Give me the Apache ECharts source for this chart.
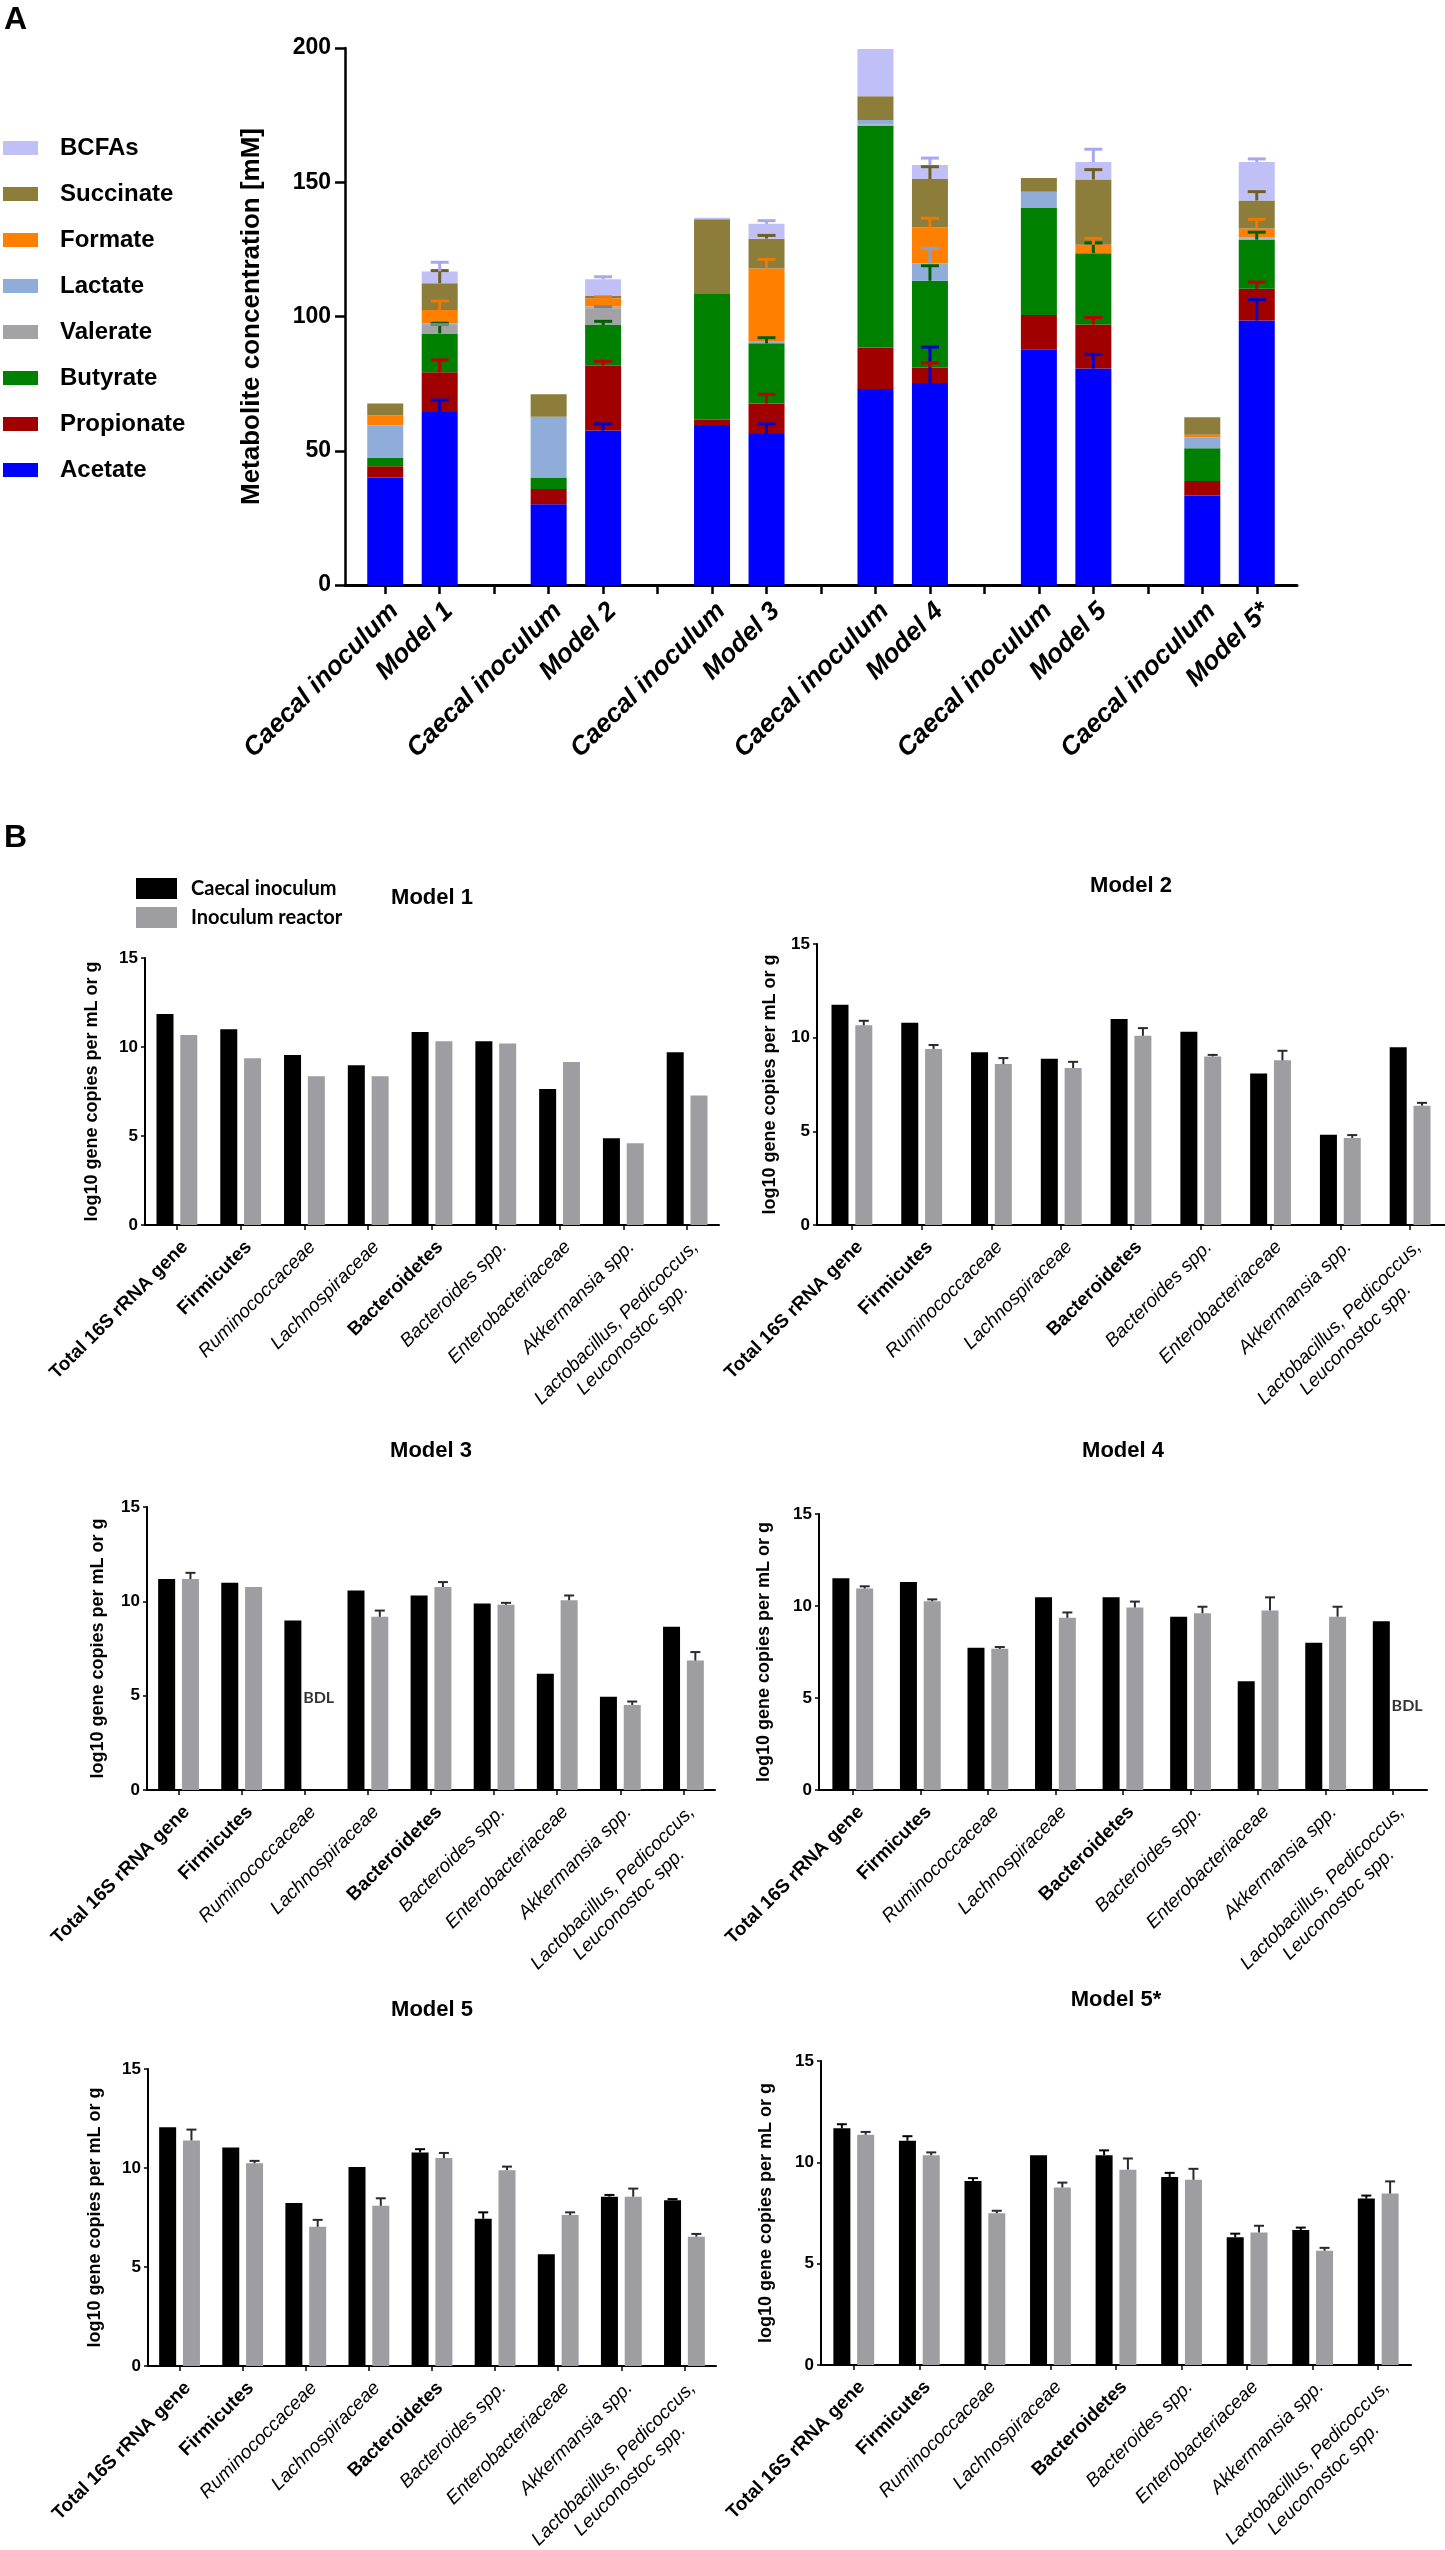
<!DOCTYPE html>
<html><head><meta charset="utf-8">
<script src="https://cdn.jsdelivr.net/npm/echarts@6/dist/echarts.min.js"></script>
<style>html,body{margin:0;padding:0;background:#fff}#c{width:1445px;height:2550px}</style>
</head><body><div id="c"></div>
<script>
// ---------- Panel A data ----------
const metabolites = ['Acetate','Propionate','Butyrate','Valerate','Lactate','Formate','Succinate','BCFAs'];
const legendOrderA = ['BCFAs','Succinate','Formate','Lactate','Valerate','Butyrate','Propionate','Acetate'];
// 17 slots: caecal, model, blank ... (last blank dropped)
const slotLabels = ['Caecal inoculum','Model 1','','Caecal inoculum','Model 2','','Caecal inoculum','Model 3','','Caecal inoculum','Model 4','','Caecal inoculum','Model 5','','Caecal inoculum','Model 5*'];
const acetate    = [40, 64.4, null, 30.1, 57.5, null, 59.6, 56.2, null, 73, 75.2, null, 87.8, 80.6, null, 33.3, 98.5];
const propionate = [4.2, 14.8, null, 5.7, 24.2, null, 1.9, 11.4, null, 15.5, 5.8, null, 12.8, 16.4, null, 5.4, 11.8];
const butyrate   = [3.2, 14.5, null, 4.2, 15.1, null, 46.9, 22.4, null, 82.5, 32.3, null, 39.8, 26.6, null, 12.2, 18.3];
const valerate   = [0.3, 2.8, null, 0, 6.3, null, 0, 0, null, 0.5, 0, null, 0, 0, null, 0, 0.4];
const lactate    = [11.7, 1.0, null, 22.7, 0.6, null, 0, 0.6, null, 1.7, 6.5, null, 6.1, 0, null, 4.0, 0.5];
const formate    = [3.8, 4.9, null, 0, 3.1, null, 0, 27.3, null, 0, 13.4, null, 0, 3.1, null, 1.1, 3.3];
const succinate  = [4.4, 10.0, null, 8.3, 0.8, null, 27.8, 11.1, null, 8.8, 18.0, null, 5.1, 24.3, null, 6.5, 10.4];
const bcfas      = [0, 4.4, null, 0, 6.3, null, 0.6, 5.5, null, 17.6, 5.2, null, 0, 6.5, null, 0, 14.3];
const acetateErr    = [0, 4.5, 0, 0, 2.5, 0, 0, 3.8, 0, 0, 13.4, 0, 0, 5.3, 0, 0, 7.8];
const propionateErr = [0, 4.6, 0, 0, 1.6, 0, 0, 3.4, 0, 0, 1.7, 0, 0, 2.6, 0, 0, 2.5];
const butyrateErr   = [0, 3.8, 0, 0, 1.4, 0, 0, 2.1, 0, 0, 5.6, 0, 0, 3.8, 0, 0, 2.8];
const valerateErr   = [0, 0.5, 0, 0, 0.5, 0, 0, 0, 0, 0, 0, 0, 0, 0, 0, 0, 0];
const lactateErr    = [0, 0, 0, 0, 0, 0, 0, 0, 0, 0, 5.6, 0, 0, 0, 0, 0, 0];
const formateErr    = [0, 3.4, 0, 0, 0.5, 0, 0, 3.4, 0, 0, 3.4, 0, 0, 2.4, 0, 0, 3.4];
const succinateErr  = [0, 4.7, 0, 0, 0, 0, 0, 1.2, 0, 0, 4.6, 0, 0, 3.7, 0, 0, 3.3];
const bcfasErr      = [0, 3.4, 0, 0, 0.9, 0, 0, 1.2, 0, 0, 2.6, 0, 0, 4.8, 0, 0, 1.2];
const yTicksA = [0, 50, 100, 150, 200];

// ---------- Panel B data ----------
const taxa = ['Total 16S rRNA gene','Firmicutes','Ruminococcaceae','Lachnospiraceae','Bacteroidetes','Bacteroides spp.','Enterobacteriaceae','Akkermansia spp.','Lactobacillus, Pedicoccus,\nLeuconostoc spp.'];
const boldTaxa = [0, 1, 4];
const modelTitles = ['Model 1','Model 2','Model 3','Model 4','Model 5','Model 5*'];
const caecalM1 = [11.86, 11.0, 9.55, 8.98, 10.84, 10.32, 7.64, 4.87, 9.7];
const reactorM1 = [10.67, 9.37, 8.35, 8.35, 10.32, 10.19, 9.16, 4.59, 7.27];
const caecalErrM1 = [0,0,0,0,0,0,0,0,0];
const reactorErrM1 = [0,0,0,0,0,0,0,0,0];
const caecalM2 = [11.76, 10.8, 9.22, 8.87, 11.0, 10.31, 8.09, 4.82, 9.49];
const reactorM2 = [10.66, 9.4, 8.59, 8.38, 10.1, 9.0, 8.79, 4.65, 6.37];
const caecalErrM2 = [0,0,0,0,0,0,0,0,0];
const reactorErrM2 = [0.24, 0.21, 0.32, 0.33, 0.41, 0.08, 0.51, 0.15, 0.15];
const caecalM3 = [11.18, 10.98, 8.98, 10.57, 10.31, 9.88, 6.16, 4.94, 8.65];
const reactorM3 = [11.18, 10.76, null, 9.18, 10.76, 9.82, 10.06, 4.51, 6.86];
const caecalErrM3 = [0,0,0,0,0,0,0,0,0];
const reactorErrM3 = [0.33, 0, 0, 0.33, 0.26, 0.1, 0.25, 0.18, 0.45];
const caecalM4 = [11.51, 11.3, 7.73, 10.47, 10.47, 9.42, 5.91, 8.0, 9.17];
const reactorM4 = [10.95, 10.26, 7.67, 9.36, 9.92, 9.61, 9.76, 9.42, null];
const caecalErrM4 = [0,0,0,0,0,0,0,0,0];
const reactorErrM4 = [0.12, 0.1, 0.1, 0.29, 0.32, 0.35, 0.71, 0.54, 0];
const caecalM5 = [12.06, 11.03, 8.23, 10.05, 10.78, 7.44, 5.64, 8.55, 8.37];
const reactorM5 = [11.39, 10.24, 7.03, 8.09, 10.5, 9.89, 7.62, 8.55, 6.53];
const caecalErrM5 = [0, 0, 0, 0, 0.17, 0.32, 0, 0.09, 0.06];
const reactorErrM5 = [0.55, 0.12, 0.35, 0.38, 0.26, 0.18, 0.14, 0.41, 0.14];
const caecalM5s = [11.68, 11.07, 9.08, 10.35, 10.35, 9.28, 6.3, 6.66, 8.21];
const reactorM5s = [11.36, 10.35, 7.49, 8.76, 9.64, 9.14, 6.54, 5.64, 8.46];
const caecalErrM5s = [0.2, 0.22, 0.14, 0, 0.24, 0.2, 0.18, 0.12, 0.15];
const reactorErrM5s = [0.14, 0.14, 0.12, 0.24, 0.55, 0.54, 0.33, 0.14, 0.6];
const bdlPoints = [[2, 2, 4.9], [3, 8, 4.6]]; // [panel index, taxon index, label height]
const yTicksB = [0, 5, 10, 15];

// ---------- styles ----------
const FONT = '"Liberation Sans", Arial, sans-serif';
const colorsA = {Acetate:'#0000ff', Propionate:'#a00000', Butyrate:'#008000', Valerate:'#a3a3a6', Lactate:'#8fadd8', Formate:'#ff8000', Succinate:'#8c7d3b', BCFAs:'#c0c0f6'};
const errColorsA = {Acetate:'#0000c8', Propionate:'#c00000', Butyrate:'#006000', Valerate:'#808084', Lactate:'#7fa4d4', Formate:'#f07800', Succinate:'#6e5f22', BCFAs:'#a8a8ee'};
const valuesA = {Acetate:acetate, Propionate:propionate, Butyrate:butyrate, Valerate:valerate, Lactate:lactate, Formate:formate, Succinate:succinate, BCFAs:bcfas};
const errsA = {Acetate:acetateErr, Propionate:propionateErr, Butyrate:butyrateErr, Valerate:valerateErr, Lactate:lactateErr, Formate:formateErr, Succinate:succinateErr, BCFAs:bcfasErr};

const BW = 17, GAP = 0.4, OFF = (BW + BW * GAP) / 2;
const FSB = 19;
const gridsB = [
  {left:145, top:958, width:574, height:267, title:[432, 898], gap:44},
  {left:817, top:944, width:628, height:281, title:[1131, 886], gap:38},
  {left:147, top:1507, width:568, height:283, title:[431, 1451], gap:40},
  {left:819, top:1514, width:608, height:276, title:[1123, 1451], gap:46},
  {left:148, top:2069, width:568, height:297, title:[432, 2010], gap:44},
  {left:821, top:2061, width:590, height:304, title:[1116, 2000], gap:46}
];
const caecalB = [caecalM1, caecalM2, caecalM3, caecalM4, caecalM5, caecalM5s];
const reactorB = [reactorM1, reactorM2, reactorM3, reactorM4, reactorM5, reactorM5s];
const caecalErrB = [caecalErrM1, caecalErrM2, caecalErrM3, caecalErrM4, caecalErrM5, caecalErrM5s];
const reactorErrB = [reactorErrM1, reactorErrM2, reactorErrM3, reactorErrM4, reactorErrM5, reactorErrM5s];

const cv = document.createElement('canvas').getContext('2d');
cv.font = 'italic ' + FSB + 'px ' + FONT;
const line1W = Math.ceil(cv.measureText(taxa[8].split('\n')[0]).width);

// grid 0: axis frame for panel A; grid 1: bars of panel A
const grid = [
  {left:345, top:48, width:952, height:537, outerBoundsMode:'none', containLabel:false},
  {left:358, top:48, width:926, height:537, outerBoundsMode:'none', containLabel:false}
];
const xAxis = [
  {gridIndex:0, type:'value', min:0, max:1,
   axisLine:{show:true, lineStyle:{color:'#000', width:3}}, axisTick:{show:false}, axisLabel:{show:false}, splitLine:{show:false}},
  {gridIndex:1, type:'category', data:slotLabels, boundaryGap:true,
   axisLine:{show:false}, splitLine:{show:false},
   axisTick:{show:true, alignWithLabel:true, interval:0, length:9, lineStyle:{color:'#000', width:2.5}},
   axisLabel:{show:true, interval:0, rotate:45, margin:13, verticalAlign:'top',
     color:'#000', fontFamily:FONT, fontWeight:'bold', fontStyle:'italic', fontSize:26}}
];
const yAxis = [
  {gridIndex:0, type:'value', min:yTicksA[0], max:yTicksA[yTicksA.length-1], interval:50,
   name:'Metabolite concentration [mM]', nameLocation:'middle', nameGap:80,
   nameTextStyle:{color:'#000', fontFamily:FONT, fontWeight:'bold', fontSize:26},
   axisLine:{show:true, lineStyle:{color:'#000', width:2.5}},
   axisTick:{show:true, length:10, lineStyle:{color:'#000', width:2.5}},
   axisLabel:{color:'#000', fontFamily:FONT, fontWeight:'bold', fontSize:23, margin:14},
   splitLine:{show:false}},
  {gridIndex:1, type:'value', min:yTicksA[0], max:yTicksA[yTicksA.length-1], show:false}
];
const series = [];
metabolites.forEach(m => {
  series.push({
    name:m, type:'bar', stack:'A', xAxisIndex:1, yAxisIndex:1, barWidth:36,
    itemStyle:{color:colorsA[m]}, data:valuesA[m]
  });
});
const cum = slotLabels.map(() => 0);
metabolites.forEach(m => {
  const errData = [];
  slotLabels.forEach((lab, i) => {
    const v = valuesA[m][i];
    if (v == null) return;
    cum[i] += v;
    if (errsA[m][i] > 0) errData.push([i, cum[i], cum[i] + errsA[m][i]]);
  });
  const col = errColorsA[m];
  series.push({
    name:'err ' + m, type:'custom', xAxisIndex:1, yAxisIndex:1, z:5, data:errData,
    renderItem:(params, api) => {
      const p0 = api.coord([api.value(0), api.value(1)]);
      const p1 = api.coord([api.value(0), api.value(2)]);
      return {type:'group', children:[
        {type:'line', shape:{x1:p0[0], y1:p0[1], x2:p1[0], y2:p1[1]}, style:{stroke:col, lineWidth:3}},
        {type:'line', shape:{x1:p1[0]-9, y1:p1[1], x2:p1[0]+9, y2:p1[1]}, style:{stroke:col, lineWidth:3}}
      ]};
    }
  });
});

const graphic = [
  {type:'text', x:4, y:4, style:{text:'A', font:'bold 32px ' + FONT, fill:'#000', textAlign:'left', textVerticalAlign:'top'}},
  {type:'text', x:4, y:822, style:{text:'B', font:'bold 32px ' + FONT, fill:'#000', textAlign:'left', textVerticalAlign:'top'}}
];
function errRenderer(offset, col) {
  return (params, api) => {
    const p0 = api.coord([api.value(0), api.value(1)]);
    const p1 = api.coord([api.value(0), api.value(2)]);
    const x = p0[0] + offset;
    return {type:'group', children:[
      {type:'line', shape:{x1:x, y1:p0[1], x2:x, y2:p1[1]}, style:{stroke:col, lineWidth:2}},
      {type:'line', shape:{x1:x-5, y1:p1[1], x2:x+5, y2:p1[1]}, style:{stroke:col, lineWidth:2}}
    ]};
  };
}
gridsB.forEach((g, k) => {
  const gi = k + 2;
  grid.push({left:g.left, top:g.top, width:g.width, height:g.height, outerBoundsMode:'none', containLabel:false});
  xAxis.push({
    gridIndex:gi, type:'category', data:taxa, boundaryGap:true,
    axisLine:{show:true, lineStyle:{color:'#000', width:2}},
    axisTick:{show:true, alignWithLabel:true, length:5, lineStyle:{color:'#000', width:1.5}},
    axisLabel:{interval:0, rotate:45, margin:11, verticalAlign:'top', color:'#000', fontFamily:FONT, fontSize:FSB, lineHeight:23,
      formatter:(v, idx) => {
        if (boldTaxa.indexOf(idx) >= 0) return '{b|' + v + '}';
        if (v.indexOf('\n') >= 0) { const ps = v.split('\n'); return '{i|' + ps[0] + '}\n{ic|' + ps[1] + '}'; }
        return '{i|' + v + '}';
      },
      rich:{
        b:{fontFamily:FONT, fontWeight:'bold', fontSize:FSB, color:'#000', lineHeight:23},
        i:{fontFamily:FONT, fontStyle:'italic', fontSize:FSB, color:'#000', lineHeight:23},
        ic:{fontFamily:FONT, fontStyle:'italic', fontSize:FSB, color:'#000', lineHeight:23, width:line1W, align:'center'}
      }
    },
    splitLine:{show:false}
  });
  yAxis.push({
    gridIndex:gi, type:'value', min:yTicksB[0], max:yTicksB[yTicksB.length-1], interval:5,
    name:'log10 gene copies per mL or g', nameLocation:'middle', nameGap:g.gap,
    nameTextStyle:{color:'#000', fontFamily:FONT, fontWeight:'bold', fontSize:18},
    axisLine:{show:true, lineStyle:{color:'#000', width:2}},
    axisTick:{show:true, length:4, lineStyle:{color:'#000', width:1.5}},
    axisLabel:{color:'#000', fontFamily:FONT, fontWeight:'bold', fontSize:17, margin:7},
    splitLine:{show:false}
  });
  series.push({name:'Caecal inoculum', type:'bar', xAxisIndex:gi, yAxisIndex:gi, barWidth:BW, barGap:(GAP*100)+'%',
    itemStyle:{color:'#000000'}, data:caecalB[k]});
  series.push({name:'Inoculum reactor', type:'bar', xAxisIndex:gi, yAxisIndex:gi, barWidth:BW, barGap:(GAP*100)+'%',
    itemStyle:{color:'#9d9da2'}, data:reactorB[k]});
  const eC = [], eR = [];
  caecalB[k].forEach((v, i) => { if (v != null && caecalErrB[k][i] > 0) eC.push([i, v, v + caecalErrB[k][i]]); });
  reactorB[k].forEach((v, i) => { if (v != null && reactorErrB[k][i] > 0) eR.push([i, v, v + reactorErrB[k][i]]); });
  series.push({name:'err caecal ' + k, type:'custom', xAxisIndex:gi, yAxisIndex:gi, z:5, data:eC, renderItem:errRenderer(-OFF, '#000')});
  series.push({name:'err reactor ' + k, type:'custom', xAxisIndex:gi, yAxisIndex:gi, z:5, data:eR, renderItem:errRenderer(OFF, '#2a2a2a')});
  graphic.push({type:'text', x:g.title[0], y:g.title[1], style:{text:modelTitles[k], font:'bold 22px ' + FONT, fill:'#000', textAlign:'center', textVerticalAlign:'middle'}});
});
bdlPoints.forEach(p => {
  const gi = p[0] + 2;
  series.push({name:'BDL', type:'scatter', xAxisIndex:gi, yAxisIndex:gi, symbolSize:0, silent:true,
    data:[[p[1], p[2]]],
    label:{show:true, formatter:'BDL', position:'inside', offset:[OFF + 2, 0], color:'#000', fontFamily:'Lato, ' + FONT, fontWeight:'bold', fontSize:16}});
});

const legend = [
  {data:legendOrderA, orient:'vertical', left:3, top:136, padding:0, itemWidth:35, itemHeight:14, itemGap:22, icon:'rect',
   textStyle:{color:'#000', fontFamily:FONT, fontWeight:'bold', fontSize:24, lineHeight:24, padding:[0,0,0,17]}, selectedMode:false},
  {data:['Caecal inoculum','Inoculum reactor'], orient:'vertical', left:136, top:878, padding:0, itemWidth:41, itemHeight:21, itemGap:8, icon:'rect',
   textStyle:{color:'#000', fontFamily:'Lato, ' + FONT, fontWeight:'bold', fontSize:20, lineHeight:21, padding:[0,0,0,9]}, selectedMode:false}
];

const chart = echarts.init(document.getElementById('c'), null, {renderer:'canvas'});
chart.setOption({animation:false, backgroundColor:'#fff', grid, xAxis, yAxis, series, legend, graphic});
</script></body></html>
